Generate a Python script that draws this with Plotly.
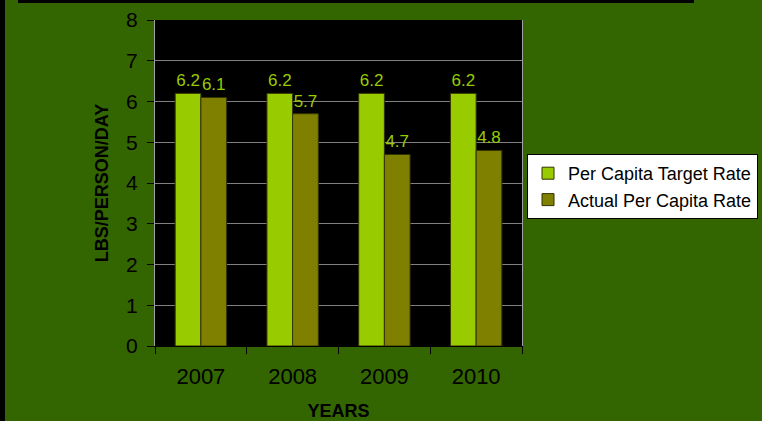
import plotly.graph_objects as go

years = ["2007", "2008", "2009", "2010"]
target_rate = [6.2, 6.2, 6.2, 6.2]
actual_rate = [6.1, 5.7, 4.7, 4.8]
series_names = ["Per Capita Target Rate", "Actual Per Capita Rate"]
y_ticks = [0, 1, 2, 3, 4, 5, 6, 7, 8]

FONT = "Liberation Sans, Arial, sans-serif"

fig = go.Figure()
fig.add_trace(go.Bar(
    x=years, y=target_rate, name=series_names[0],
    marker=dict(color="#99CC00", line=dict(color="#333300", width=1)),
    text=[f"{v:.1f}" for v in target_rate], textposition="outside",
    textfont=dict(color="#99CC00", size=17, family=FONT), cliponaxis=False,
))
fig.add_trace(go.Bar(
    x=years, y=actual_rate, name=series_names[1],
    marker=dict(color="#808000", line=dict(color="#333300", width=1)),
    text=[f"{v:.1f}" for v in actual_rate], textposition="outside",
    textfont=dict(color="#99CC00", size=17, family=FONT), cliponaxis=False,
))

fig.update_layout(
    width=762, height=421,
    margin=dict(l=155, r=240, t=20, b=75),
    paper_bgcolor="#336600", plot_bgcolor="#000000",
    barmode="group", bargap=0.44, bargroupgap=0,
    font=dict(family=FONT, color="#000000"),
    showlegend=True,
    legend=dict(
        xref="container", yref="container",
        x=527 / 762, y=1 - 154 / 421, xanchor="left", yanchor="top",
        bgcolor="#FFFFFF", bordercolor="#000000", borderwidth=1,
        font=dict(size=18, family=FONT, color="#000000"),
        tracegroupgap=0, itemwidth=30,
    ),
    xaxis=dict(
        type="category", tickson="boundaries",
        ticks="outside", ticklen=7, tickcolor="#000000",
        tickfont=dict(size=22, family=FONT),
        ticklabelstandoff=11,
        showline=True, linecolor="#000000", linewidth=1,
        title=dict(text="<b>YEARS</b>", font=dict(size=18, family=FONT), standoff=26),
        showgrid=False, automargin=False,
    ),
    yaxis=dict(
        range=[0, 8], tickvals=y_ticks,
        ticks="outside", ticklen=7, tickcolor="#000000",
        tickfont=dict(size=21, family=FONT),
        ticklabelstandoff=5,
        gridcolor="#808080", gridwidth=1,
        showline=True, mirror=True, linecolor="#A0A0A0", linewidth=1,
        zeroline=False, automargin=False,
        title=dict(text="<b>LBS/PERSON/DAY</b>", font=dict(size=18, family=FONT), standoff=12),
    ),
    shapes=[
        dict(type="rect", xref="paper", yref="paper", x0=-155/367, x1=-150/367,
             y0=-75/326, y1=1 + 20/326, fillcolor="#000000", line=dict(width=0)),
        dict(type="rect", xref="paper", yref="paper", x0=-137/367, x1=539/367,
             y0=1 + 17/326, y1=1 + 20/326, fillcolor="#000000", line=dict(width=0)),
    ],
)

fig.write_html("out.html", config={"displayModeBar": False},
               post_script="document.body.style.margin='0';")
